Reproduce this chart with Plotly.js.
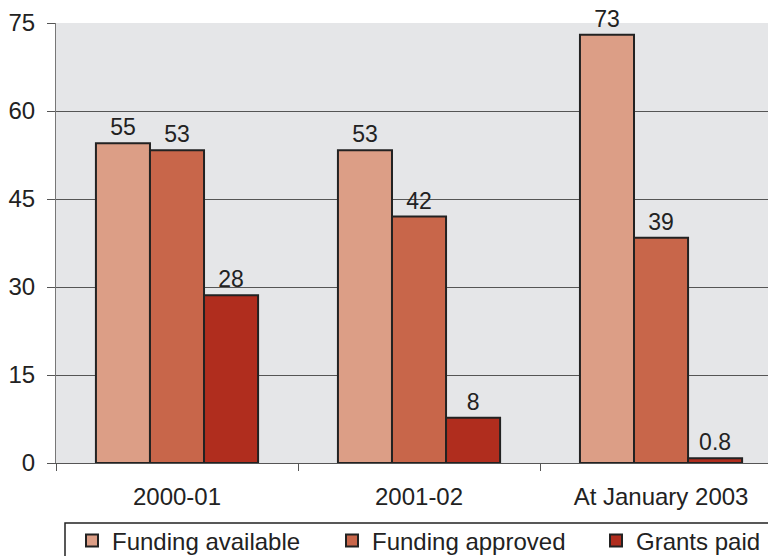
<!DOCTYPE html>
<html>
<head>
<meta charset="utf-8">
<script src="https://cdn.plot.ly/plotly-3.0.1.min.js"></script>
<style>html,body{margin:0;padding:0;background:#fff;}#chart{width:768px;height:556px;}</style>
</head>
<body>
<div id="chart"></div>
<script>
const categories = ["2000-01", "2001-02", "At January 2003"];
const fundingAvailable = [54.5, 53.3, 73.0];
const fundingApproved = [53.3, 42.0, 38.4];
const grantsPaid = [28.6, 7.7, 0.8];
const availableLabels = ["55", "53", "73"];
const approvedLabels = ["53", "42", "39"];
const paidLabels = ["28", "8", "0.8"];
const yTicks = [0, 15, 30, 45, 60, 75];

const FONT = "Liberation Sans, Arial, sans-serif";
const lineStyle = {color: "#222", width: 2};
const textFont = {family: FONT, size: 23, color: "#222"};

function series(name, values, labels, color, legendId) {
  return {
    type: "bar", name: name, x: categories, y: values,
    text: labels, textposition: "outside", textfont: textFont,
    constraintext: "none", cliponaxis: false,
    marker: {color: color, line: lineStyle},
    legend: legendId,
    hoverinfo: "skip"
  };
}

const data = [
  series("Funding available", fundingAvailable, availableLabels, "#dc9e86", "legend"),
  series("Funding approved", fundingApproved, approvedLabels, "#c8664a", "legend2"),
  series("Grants paid", grantsPaid, paidLabels, "#b02d1e", "legend3")
];

function legendAt(xpx) {
  return {
    orientation: "h", x: (xpx - 56) / 712, xanchor: "left",
    y: (463 - 541) / 440, yanchor: "middle",
    borderwidth: 0, bgcolor: "rgba(0,0,0,0)",
    font: {family: FONT, size: 24, color: "#222"}
  };
}

const layout = {
  width: 768, height: 556,
  margin: {l: 56, r: 0, t: 23, b: 93, pad: 0, autoexpand: false},
  paper_bgcolor: "#ffffff",
  plot_bgcolor: "#e5e6e8",
  font: {family: FONT, size: 24, color: "#222"},
  barmode: "group",
  bargap: 0.33,
  bargroupgap: 0,
  showlegend: true,
  legend: legendAt(72),
  legend2: legendAt(332),
  legend3: legendAt(596),
  shapes: [{
    type: "rect", xref: "paper", yref: "paper",
    x0: (65 - 56) / 712, x1: 1.1, y0: (463 - 523) / 440, y1: (463 - 620) / 440,
    line: {color: "#222", width: 1.5}, fillcolor: "rgba(0,0,0,0)", layer: "below"
  }],
  xaxis: {
    type: "category", range: [-0.5, 2.442],
    tickson: "boundaries", ticks: "outside", ticklen: 7, tickcolor: "#555",
    showline: true, linecolor: "#555", linewidth: 1,
    showgrid: false, zeroline: false,
    tickfont: {family: FONT, size: 24, color: "#222"}, ticklabelstandoff: 12,
    fixedrange: true
  },
  yaxis: {
    range: [0, 75], tickvals: yTicks, ticktext: yTicks.map(String),
    ticks: "outside", ticklen: 8, tickcolor: "#555",
    showline: true, linecolor: "#777", linewidth: 1,
    showgrid: true, gridcolor: "#555", gridwidth: 1,
    zeroline: false,
    tickfont: {family: FONT, size: 24, color: "#222"}, ticklabelstandoff: 7,
    fixedrange: true
  }
};

Plotly.newPlot("chart", data, layout, {displayModeBar: false, staticPlot: true});
</script>
</body>
</html>
